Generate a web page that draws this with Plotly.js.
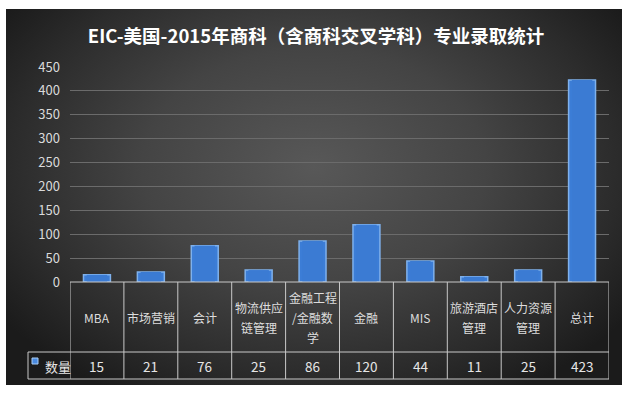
<!DOCTYPE html>
<html>
<head>
<meta charset="utf-8">
<script src="https://cdn.plot.ly/plotly-3.0.1.min.js"></script>
<style>
  html, body { margin: 0; padding: 0; background: #ffffff; }
  #wrap { position: relative; width: 632px; height: 398px; overflow: hidden; }
  #panel { position: absolute; left: 6px; top: 9px; width: 616px; height: 376px;
    background: radial-gradient(ellipse 62% 70% at 50% 42%, #585858 0%, #444444 45%, #2b2b2b 80%, #1b1b1b 100%); }
  #chart { position: absolute; left: 0; top: 0; width: 632px; height: 398px; }
</style>
</head>
<body>
<div id="wrap">
  <div id="panel"></div>
  <div id="chart"></div>
</div>
<script>
// ---- data ----
const categories = ["MBA", "市场营销", "会计", "物流供应\n链管理", "金融工程\n/金融数\n学", "金融", "MIS", "旅游酒店\n管理", "人力资源\n管理", "总计"];
const values = [15, 21, 76, 25, 86, 120, 44, 11, 25, 423];
const seriesName = "数量";
const titleText = "EIC-美国-2015年商科（含商科交叉学科）专业录取统计";
const yTicks = [0, 50, 100, 150, 200, 250, 300, 350, 400, 450];

// ---- layout helpers (pixel geometry) ----
const W = 632, H = 398;
const plotL = 70, plotR = 609, plotT = 67, plotB = 282;
const headerMid = 317, rowTop = 352, rowBot = 379, valueMid = 366;
const legendL = 28;
const lineSpacing = 20;
const pw = plotR - plotL, ph = plotB - plotT;
const py = Y => (plotB - Y) / ph;
const px = X => (X - plotL) / pw;

const xIdx = categories.map((_, i) => i);
const tableLine = { color: "#c9c9c9", width: 1 };

const shapes = [];
shapes.push({ type: "line", xref: "paper", yref: "paper", x0: 0, x1: 1, y0: 0, y1: 0, line: tableLine });
shapes.push({ type: "line", xref: "paper", yref: "paper", x0: px(legendL), x1: 1, y0: py(rowTop), y1: py(rowTop), line: tableLine });
shapes.push({ type: "line", xref: "paper", yref: "paper", x0: px(legendL), x1: 1, y0: py(rowBot), y1: py(rowBot), line: tableLine });
shapes.push({ type: "line", xref: "paper", yref: "paper", x0: px(legendL), x1: px(legendL), y0: py(rowTop), y1: py(rowBot), line: tableLine });
for (let i = 0; i <= categories.length; i++) {
  shapes.push({ type: "line", xref: "x", yref: "paper", x0: i - 0.5, x1: i - 0.5, y0: 0, y1: py(rowBot), line: tableLine });
}
shapes.push({ type: "rect", xref: "paper", yref: "paper", x0: px(32), x1: px(38), y0: py(358), y1: py(364),
  fillcolor: "#4a8ae0", line: { color: "#a9cdf5", width: 1 } });

const annotations = [];
const labelFont = { family: "Noto Sans CJK SC, sans-serif", size: 12, color: "#dddddd" };
categories.forEach((c, i) => {
  const lines = c.split("\n");
  const n = lines.length;
  lines.forEach((t, k) => {
    const Y = headerMid + (k - (n - 1) / 2) * lineSpacing;
    annotations.push({ x: i, xref: "x", y: py(Y), yref: "paper", text: t, showarrow: false,
      xanchor: "center", yanchor: "middle", font: labelFont });
  });
  annotations.push({ x: i, xref: "x", y: py(valueMid), yref: "paper", text: String(values[i]), showarrow: false,
    xanchor: "center", yanchor: "middle", font: { family: "Noto Sans CJK SC, sans-serif", size: 13.5, color: "#e6e6e6" } });
});
annotations.push({ x: px(43), xref: "paper", y: py(valueMid), yref: "paper", text: seriesName, showarrow: false,
  xanchor: "left", yanchor: "middle", font: { family: "Noto Sans CJK SC, sans-serif", size: 13, color: "#e6e6e6" } });

const traces = [
  { type: "bar", x: xIdx, y: values, width: 0.5, name: seriesName, hoverinfo: "skip",
    marker: { color: "#3c7dd6", line: { color: "#7fb1ec", width: 1.5 } } },
  { type: "bar", x: xIdx, y: values, width: 0.38, name: seriesName, hoverinfo: "skip", showlegend: false,
    marker: { color: "#3b7bd3", line: { width: 0 } } }
];

const layout = {
  width: W, height: H,
  margin: { l: plotL, r: W - plotR, t: plotT, b: H - plotB, pad: 0 },
  paper_bgcolor: "rgba(0,0,0,0)",
  plot_bgcolor: "rgba(0,0,0,0)",
  showlegend: false,
  barmode: "overlay",
  title: { text: "<b>" + titleText + "</b>", x: 0.5, xanchor: "center", y: 1 - 37 / H, yanchor: "middle", yref: "container",
    font: { family: "Noto Sans CJK SC, sans-serif", size: 18.5, color: "#ffffff" } },
  xaxis: { range: [-0.5, categories.length - 0.5], showticklabels: false, showgrid: false, zeroline: false,
    showline: false, ticks: "", fixedrange: true },
  yaxis: { range: [0, 450], tickvals: yTicks, ticktext: yTicks.map(String), showgrid: true, gridcolor: "#6b6b6b", gridwidth: 1,
    zeroline: false, showline: false, ticks: "", ticklabelstandoff: 9,
    tickfont: { family: "Noto Sans CJK SC, sans-serif", size: 13, color: "#dadada" }, fixedrange: true },
  shapes: shapes,
  annotations: annotations
};

Plotly.newPlot("chart", traces, layout, { displayModeBar: false, staticPlot: true });
</script>
</body>
</html>
